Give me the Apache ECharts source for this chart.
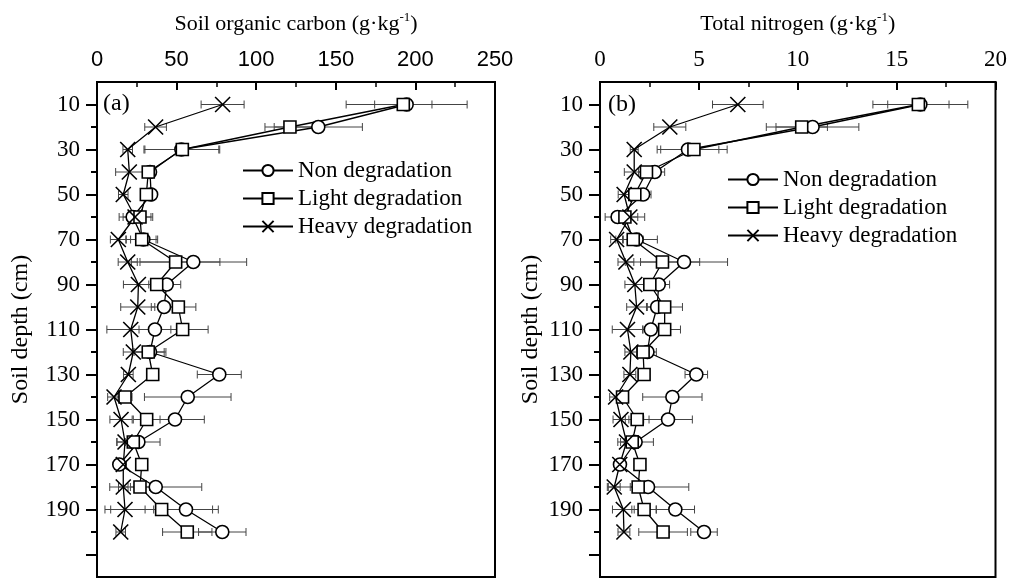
<!DOCTYPE html>
<html><head><meta charset="utf-8">
<script src="https://cdn.jsdelivr.net/npm/echarts@6/dist/echarts.min.js"></script>
<style>html,body{margin:0;padding:0;background:#fff}#c{width:1010px;height:578px}</style>
</head><body><div id="c"></div>
<script>
const depths = [10,20,30,40,50,60,70,80,90,100,110,120,130,140,150,160,170,180,190,200];
const yTickLabels = [10,30,50,70,90,110,130,150,170,190];
const yMajorTicks = [10,30,50,70,90,110,130,150,170,190,210];
const yMinorTicks = [20,40,60,80,100,120,140,160,180,200];
const seriesNames = ['Non degradation','Light degradation','Heavy degradation'];

// Soil organic carbon (g/kg)
const socNon = [194.5,139,53,33.3,34,22.4,29.1,60.5,43.8,42.1,36.4,33.3,76.8,57,49,26,14,36.9,55.9,78.7];
const socNonErr = [38,27.7,23.5,3,3,6,8,33.5,8.8,8,10,10,13.8,27.2,18.4,13.6,2,28.9,20.3,14.9];
const socLight = [192.4,121.2,53.6,32.2,31,27,28.1,49.4,37.5,51.1,53.8,32.2,35,17.6,31.2,22.8,28.1,27,40.6,56.7];
const socLightErr = [18,15.7,23.5,3,3,8,10,27.8,5,11,16,10,3,4.4,8.4,5,2,6,32,15.5];
const socHeavy = [78.9,36.8,19.3,20.3,16.5,23.9,13.4,19.3,26,25.6,21.2,22.8,19.7,10.7,15.1,17.6,16.5,16.5,17.6,14.9];
const socHeavyErr = [13.5,6.8,3,8.6,3,10,5,6,9.4,10.7,15,6.3,3,4,7,5,2,3,12.6,3];

// Total nitrogen (g/kg)
const tnNon = [16.2,10.75,4.45,2.77,2.18,0.89,1.85,4.25,2.97,2.89,2.57,2.4,4.87,3.66,3.44,1.8,1.01,2.43,3.81,5.26];
const tnNonErr = [2.4,2.34,1.56,0.5,0.4,0.3,1.05,2.2,0.55,0.5,0.4,0.45,0.57,1.5,1.23,0.9,0.2,2.06,0.97,0.67];
const tnLight = [16.1,10.2,4.75,2.35,1.76,1.26,1.68,3.16,2.52,3.27,3.27,2.18,2.23,1.14,1.88,1.63,2.02,1.93,2.23,3.19];
const tnLightErr = [1.55,1.3,1.68,0.4,0.3,1.0,0.5,1.88,0.3,0.9,0.8,0.3,0.2,0.3,0.6,0.4,0.2,0.4,0.62,1.23];
const tnHeavy = [6.97,3.53,1.73,1.73,1.22,1.51,0.84,1.31,1.76,1.85,1.39,1.56,1.51,0.79,1.06,1.34,1.0,0.72,1.18,1.21];
const tnHeavyErr = [1.28,0.81,0.2,0.5,0.3,0.4,0.3,0.4,0.5,0.5,0.77,0.3,0.3,0.3,0.4,0.3,0.2,0.3,0.55,0.3];

const SERIF = 'Liberation Serif, Times New Roman, serif';
const SANS = 'Liberation Sans, Arial, sans-serif';
const crossPath = 'path://M0,0L10,10M10,0L0,10';
const symbols = ['circle','rect',crossPath];
const symSizes = [13,12,15];

function errSeries(ai, vals, errs){
  return {
    type:'custom', xAxisIndex:ai, yAxisIndex:ai, silent:true, z:1, animation:false,
    encode:{x:0,y:1},
    data: depths.map((d,i)=>[vals[i], d, errs[i]]),
    renderItem(params, api){
      const v=api.value(0), d=api.value(1), e=api.value(2);
      const p1=api.coord([v-e,d]), p2=api.coord([v+e,d]);
      const h=4, st={stroke:'#444', lineWidth:1};
      return {type:'group', children:[
        {type:'line', shape:{x1:p1[0],y1:p1[1],x2:p2[0],y2:p2[1]}, style:st},
        {type:'line', shape:{x1:p1[0],y1:p1[1]-h,x2:p1[0],y2:p1[1]+h}, style:st},
        {type:'line', shape:{x1:p2[0],y1:p2[1]-h,x2:p2[0],y2:p2[1]+h}, style:st}
      ]};
    }
  };
}
function lineSeries(ai, k, vals){
  return {
    type:'line', name:seriesNames[k], xAxisIndex:ai, yAxisIndex:ai, z:3, animation:false,
    data: depths.map((d,i)=>[vals[i], d]),
    symbol:symbols[k], symbolSize:symSizes[k], showSymbol:true,
    lineStyle:{color:'#000', width:1.3},
    itemStyle:{color:'#fff', borderColor:'#000', borderWidth:1.6},
    emphasis:{disabled:true}
  };
}
function xAxis(gi, max, interval, fam, fs, title){
  return {
    type:'value', gridIndex:gi, position:'top', min:0, max:max, interval:interval,
    name:title, nameLocation:'middle', nameGap:45,
    nameTextStyle:{fontFamily:SERIF, fontSize:22, color:'#000',
      rich:{a:{fontFamily:SERIF, fontSize:22, color:'#000'}, s:{fontFamily:SERIF, fontSize:13, color:'#000', padding:[0,0,13,0]}}},
    axisLine:{show:true, lineStyle:{color:'#000', width:2}},
    axisTick:{show:true, inside:true, length:8, lineStyle:{color:'#000', width:2}},
    minorTick:{show:true, splitNumber:2, length:5, lineStyle:{color:'#000', width:1.5}},
    axisLabel:{fontFamily:fam, fontSize:fs, color:'#000', margin:11},
    splitLine:{show:false}
  };
}
function yAxisMain(gi, gap){
  return {
    type:'value', gridIndex:gi, position:'left', inverse:true, min:0, max:220, interval:10,
    name:'Soil depth (cm)', nameLocation:'middle', nameGap:gap,
    nameTextStyle:{fontFamily:SERIF, fontSize:24, color:'#000'},
    axisLine:{show:true, lineStyle:{color:'#000', width:2}},
    axisTick:{show:true, inside:false, length:11, customValues:yMajorTicks, lineStyle:{color:'#000', width:2}},
    axisLabel:{fontFamily:SERIF, fontSize:23, color:'#000', margin:17, customValues:yTickLabels},
    splitLine:{show:false}
  };
}
function yAxisMinor(gi){
  return {
    type:'value', gridIndex:gi, position:'left', inverse:true, min:0, max:220, interval:10,
    axisLine:{show:false},
    axisTick:{show:true, inside:false, length:6, customValues:yMinorTicks, lineStyle:{color:'#000', width:2}},
    axisLabel:{show:false},
    splitLine:{show:false}
  };
}
function legend(left, top){
  return {
    orient:'vertical', left:left, top:top, itemWidth:50, itemHeight:14, itemGap:5,
    selectedMode:false, data:seriesNames,
    textStyle:{fontFamily:SERIF, fontSize:23, color:'#000'}
  };
}

const chart = echarts.init(document.getElementById('c'), null, {renderer:'canvas'});
chart.setOption({
  backgroundColor:'#fff',
  animation:false,
  grid:[
    {left:97, top:82, width:398, height:495, show:true, borderColor:'#000', borderWidth:2, containLabel:false},
    {left:600, top:82, width:397, height:495, show:true, borderColor:'#000', borderWidth:2, containLabel:false}
  ],
  xAxis:[
    xAxis(0, 250, 50, SANS, 22, '{a|Soil organic carbon (g·kg}{s|-1}{a|)}'),
    xAxis(1, 20, 5, SERIF, 23, '{a|Total nitrogen (g·kg}{s|-1}{a|)}')
  ],
  yAxis:[ yAxisMain(0, 64), yAxisMain(1, 57), yAxisMinor(0), yAxisMinor(1) ],
  legend:[ legend(237, 154), legend(722, 163) ],
  graphic:[
    {type:'text', left:103, top:92, style:{text:'(a)', font:'24px '+SERIF, fill:'#000'}},
    {type:'text', left:608, top:93, style:{text:'(b)', font:'24px '+SERIF, fill:'#000'}}
  ],
  series:[
    errSeries(0, socNon, socNonErr), errSeries(0, socLight, socLightErr), errSeries(0, socHeavy, socHeavyErr),
    lineSeries(0, 0, socNon), lineSeries(0, 1, socLight), lineSeries(0, 2, socHeavy),
    errSeries(1, tnNon, tnNonErr), errSeries(1, tnLight, tnLightErr), errSeries(1, tnHeavy, tnHeavyErr),
    lineSeries(1, 0, tnNon), lineSeries(1, 1, tnLight), lineSeries(1, 2, tnHeavy)
  ]
});
</script>
</body></html>
